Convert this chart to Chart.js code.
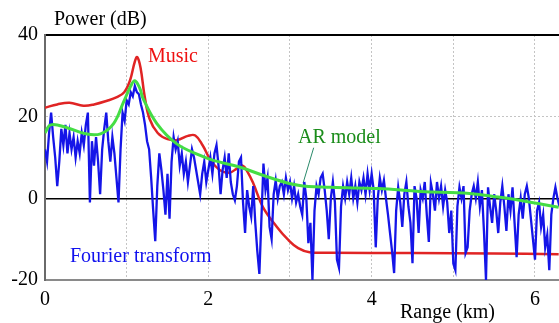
<!DOCTYPE html>
<html>
<head>
<meta charset="utf-8">
<script src="https://cdn.jsdelivr.net/npm/chart.js@4/dist/chart.umd.min.js"></script>
<style>
  html, body { margin: 0; padding: 0; background: #fff; }
</style>
</head>
<body>
<canvas id="myRangeChart" width="559" height="323"></canvas>
<script>
const grafica = document.getElementById('myRangeChart').getContext('2d');

// ejes
const xTicks = [0, 1, 2, 3, 4, 5, 6];
const xLabels = [0, 2, 4, 6];
const yTicks = [-20, 0, 20, 40];

// Fourier transform, one sample every 0.025 km
const fourierStep = 0.025;
const fourierDb = [
  12, 9, 16, 21, 15, 10, 3, 9, 17, 13,
  18, 11, 16, 12, 15, 10, 14, 11, 16, 13,
  18, 21, -1, 14, 8, 15, 9, 1, 12, 17,
  21, 14, 9, 15, 11, 5, -1, 12, 21, 19,
  24, 23, 26, 25, 27.5, 26, 25.5, 23, 21, 18,
  14, 12, 5, -3, -10.5, 3, 11, 7, 2, -4,
  6, -5, 9, 15, 12, 14, 8, 11, 6, 9,
  4, 8, 12, 10, 7, 4, 1, 6, 9, 4,
  7, 10, 6, 11, 13, 8, 1, 7, 10, 5,
  11, 4, 1, -0.5, 3, 9, 10, -1, -8.5, 2,
  -2, -4.5, 3, -6, -13, -18.5, -5, 8.5, 2, 5,
  -7, -10, 1, 4.4, 0, 3, 4, 1, 5, 2,
  4, 0, 3, -1, 1, -2, -4, 4, 0, -11,
  -6, -20, -3, 3, 1, 5, 6, 2, -3, -10,
  0, 4, -1, -15, -17, -2, 3, 0, 4, 1,
  5, 0, 3, -1, 4, 2, 5, 1, 6, 2,
  6, 2, -12, 0, 5, 2, 4.4, 0, -4, -8.5,
  -13, -18.3, -3, 2.7, -1, -7, 1, 4, -2, -6,
  -15.9, 3, 0, -8.5, 2, 0, 4, -4, -10.7, 3.7,
  1, -3, 4, 0, 3, -2, 2, -1, -8.5, -3,
  -16, -17.6, -2, 2.7, 0, 3, -13.4, -12, -3, 1,
  3, 0, 4, -2, 2, -8, -20, 2.7, -2, -6,
  1, -3, -8.5, -1, 3, -2, -8, 1, -3, 2.7,
  -6, -14.4, -4, 0, -5, 1, 3, 0, -5, -10,
  -15, -3, -1, -7, -4, -12, -9, -17.6, -4, 0,
  2.7, 0, -2
];

// Music
const musicKm = [0, 0.15, 0.3, 0.47, 0.6, 0.76, 0.88, 0.97, 1.04, 1.1, 1.13, 1.17, 1.22, 1.28, 1.38, 1.5, 1.62, 1.75, 1.84, 1.93, 2.03, 2.15, 2.26, 2.35, 2.42, 2.48, 2.55, 2.67, 2.84, 2.97, 3.1, 3.24, 3.5, 4.5, 5.5, 6.29];
const musicDb = [22.2, 23, 23.4, 22.7, 23, 23.9, 24.8, 26, 28.8, 33.5, 34.6, 32, 25, 19.5, 16, 14.5, 14.3, 15.3, 15.4, 13, 9.3, 6.8, 6.3, 7.3, 8, 6.5, 3.7, -2.2, -7, -10, -12.2, -13.2, -13.3, -13.4, -13.5, -13.7];

// AR model
const arKm = [0, 0.07, 0.27, 0.5, 0.68, 0.84, 0.96, 1.05, 1.1, 1.16, 1.2, 1.37, 1.61, 1.9, 2.06, 2.39, 2.75, 3.1, 3.5, 4.08, 4.6, 5.2, 5.55, 5.96, 6.29];
const arDb = [16, 18, 17.3, 15.8, 15.8, 18.3, 23.5, 27.5, 28.8, 27, 24.5, 18.3, 13.4, 10.5, 9.3, 7.6, 5.1, 3.2, 2.7, 2.4, 1.7, 1.2, 0.3, -1, -2.2];

// flechita del texto "AR model"
const pointerKm = [3.29, 3.16];
const pointerDb = [12.4, 3.7];

const toPoints = (xs, ys) => xs.map((v, i) => ({x: v, y: ys[i]}));
const fourierPoints = fourierDb.map((v, i) => ({x: i * fourierStep, y: v}));

const serif = 'Liberation Serif';

// textos sueltos sobre la grafica
const textos = {
  id: 'textos',
  afterDatasetsDraw(chart) {
    const c = chart.ctx;
    c.save();
    c.font = '20px "' + serif + '"';
    c.textBaseline = 'alphabetic';
    c.textAlign = 'left';
    c.fillStyle = '#000';
    c.fillText('Power (dB)', 54, 25);
    c.fillText('Range (km)', 400, 318);
    c.fillStyle = '#ee1111';
    c.fillText('Music', 148, 62);
    c.fillStyle = '#1a8c1a';
    c.fillText('AR model', 298, 143);
    c.fillStyle = '#1111ee';
    c.fillText('Fourier transform', 70, 262);
    c.restore();
  }
};

const tickValue = (ctx) => ctx.tick ? ctx.tick.value : null;

const myRangeChart = new Chart(grafica, {
  type: 'line',
  data: {
    datasets: [
      {
        label: 'AR model',
        data: toPoints(arKm, arDb),
        borderColor: '#44dd44',
        borderWidth: 3,
        pointRadius: 0,
        tension: 0.4
      },
      {
        label: 'Fourier transform',
        data: fourierPoints,
        borderColor: '#1515e8',
        borderWidth: 2.3,
        pointRadius: 0,
        tension: 0
      },
      {
        label: 'Music',
        data: toPoints(musicKm, musicDb),
        borderColor: '#e02424',
        borderWidth: 2.5,
        pointRadius: 0,
        tension: 0.4
      },
      {
        label: 'pointer',
        data: toPoints(pointerKm, pointerDb),
        borderColor: '#2a8a6a',
        borderWidth: 1,
        pointRadius: 0
      }
    ]
  },
  options: {
    responsive: false,
    animation: false,
    layout: { padding: { top: 35, right: 0, left: 0, bottom: 0 } },
    plugins: {
      legend: { display: false },
      tooltip: { enabled: false }
    },
    scales: {
      x: {
        type: 'linear',
        min: 0,
        max: 6.294,
        afterBuildTicks: (ax) => { ax.ticks = xTicks.map(v => ({value: v})); },
        afterFit: (ax) => { ax.height = 43; },
        grid: {
          drawTicks: false,
          color: (ctx) => tickValue(ctx) === 0 ? 'rgba(0,0,0,0)' : '#c4c4c4',
          lineWidth: 1
        },
        border: {
          color: '#8a8a8a',
          width: 2,
          dash: (ctx) => ctx.tick ? [2, 2] : []
        },
        ticks: {
          padding: 8,
          color: '#000',
          maxRotation: 0,
          autoSkip: false,
          font: { family: serif, size: 20 },
          callback: (v) => xLabels.includes(v) ? String(v) : ''
        }
      },
      y: {
        type: 'linear',
        min: -20,
        max: 40,
        afterBuildTicks: (ax) => { ax.ticks = yTicks.map(v => ({value: v})); },
        afterFit: (ax) => { ax.width = 45; },
        grid: {
          drawTicks: false,
          color: (ctx) => {
            const v = tickValue(ctx);
            if (v === 0 || v === 40) return '#000';
            if (v === -20) return 'rgba(0,0,0,0)';
            return '#c4c4c4';
          },
          lineWidth: (ctx) => tickValue(ctx) === 40 ? 2 : (tickValue(ctx) === 0 ? 1.5 : 1)
        },
        border: {
          color: '#6a6a6a',
          width: 2,
          dash: (ctx) => {
            const v = tickValue(ctx);
            return (ctx.tick && v !== 0 && v !== 40) ? [2, 2] : [];
          }
        },
        ticks: {
          padding: 7,
          color: '#000',
          autoSkip: false,
          font: { family: serif, size: 20 }
        }
      }
    }
  },
  plugins: [textos]
});
</script>
</body>
</html>
